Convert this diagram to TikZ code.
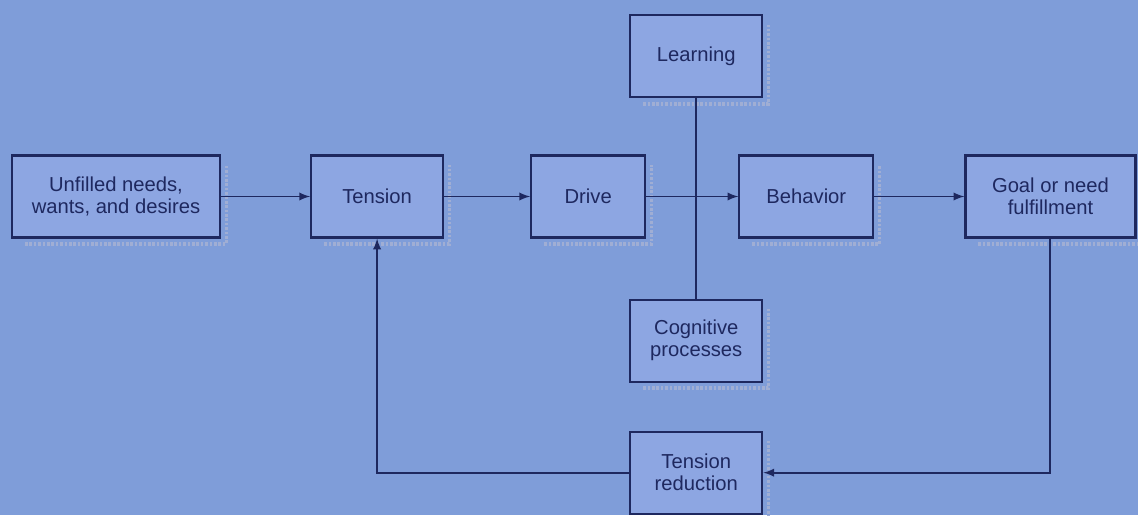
\documentclass[tikz,border=0pt]{standalone}
\usepackage{fontspec}
\setmainfont{Liberation Sans}
\usetikzlibrary{positioning}
\definecolor{paper}{RGB}{127,157,217}
\definecolor{boxfill}{RGB}{141,166,226}
\definecolor{ink}{RGB}{30,40,95}
\definecolor{shade}{RGB}{160,174,212}
\tikzset{>=latex}
\tikzset{motive-line/.style={line width=1.1pt, color=ink}}
\tikzset{motive-box/.style={draw=ink, fill=boxfill, line width=1.2pt, inner sep=2pt, minimum height=1.64cm, minimum width=2.64cm, align=center, text=ink, font=\fontsize{11.5}{12.5}\selectfont}}
\tikzset{box-shadow/.style={line width=2pt, color=shade, dash pattern=on 1.5pt off 1pt}}

\begin{document}
\begin{tikzpicture}
            \fill[paper] (0,0) rectangle (22.76,10.3);
            \useasboundingbox (0,0) rectangle (22.76,10.3);
            \clip (0,0) rectangle (22.76,10.3);

            \node[motive-box, minimum width=4.16cm] (needs) at (2.32,6.37) {Unfilled needs,\\wants, and desires};
            \node[motive-box, right=1.78cm of needs] (tension) {Tension};
            \node[motive-box, minimum width=2.28cm, right=1.72cm of tension] (drive) {Drive};
            \node[motive-box, minimum width=2.68cm, right=1.84cm of drive] (behavior) {Behavior};
            \node[motive-box, minimum width=3.4cm, right=1.8cm of behavior] (goal) {Goal or need\\fulfillment};

            \path (drive.east) -- coordinate[midway] (junction) (behavior.west);

            \node[motive-box, above=1.96cm of junction, xshift=0.08cm] (learning) {Learning};
            \node[motive-box, below=2.04cm of junction, xshift=0.08cm] (cognitive) {Cognitive\\processes};
            \node[motive-box, below=0.96cm of cognitive] (treduce) {Tension\\reduction};

            \foreach \n in {needs,tension,drive,behavior,goal,learning,cognitive,treduce}
                \draw[box-shadow] ([xshift=8pt,yshift=-3pt]\n.south west) -- ([xshift=3pt,yshift=-3pt]\n.south east) -- ([xshift=3pt,yshift=-6pt]\n.north east);

            \draw[->, motive-line] (needs) -- (tension);
            \draw[->, motive-line] (tension) -- (drive);
            \draw[->, motive-line] (drive) -- (behavior);
            \draw[->, motive-line] (behavior) -- (goal);

            \draw[motive-line] (learning) -- (cognitive);

            \draw[->, motive-line] (goal.south) |- (treduce.east);
            \draw[->, motive-line] (treduce.west) -| (tension.south);

        \end{tikzpicture}
\end{document}
